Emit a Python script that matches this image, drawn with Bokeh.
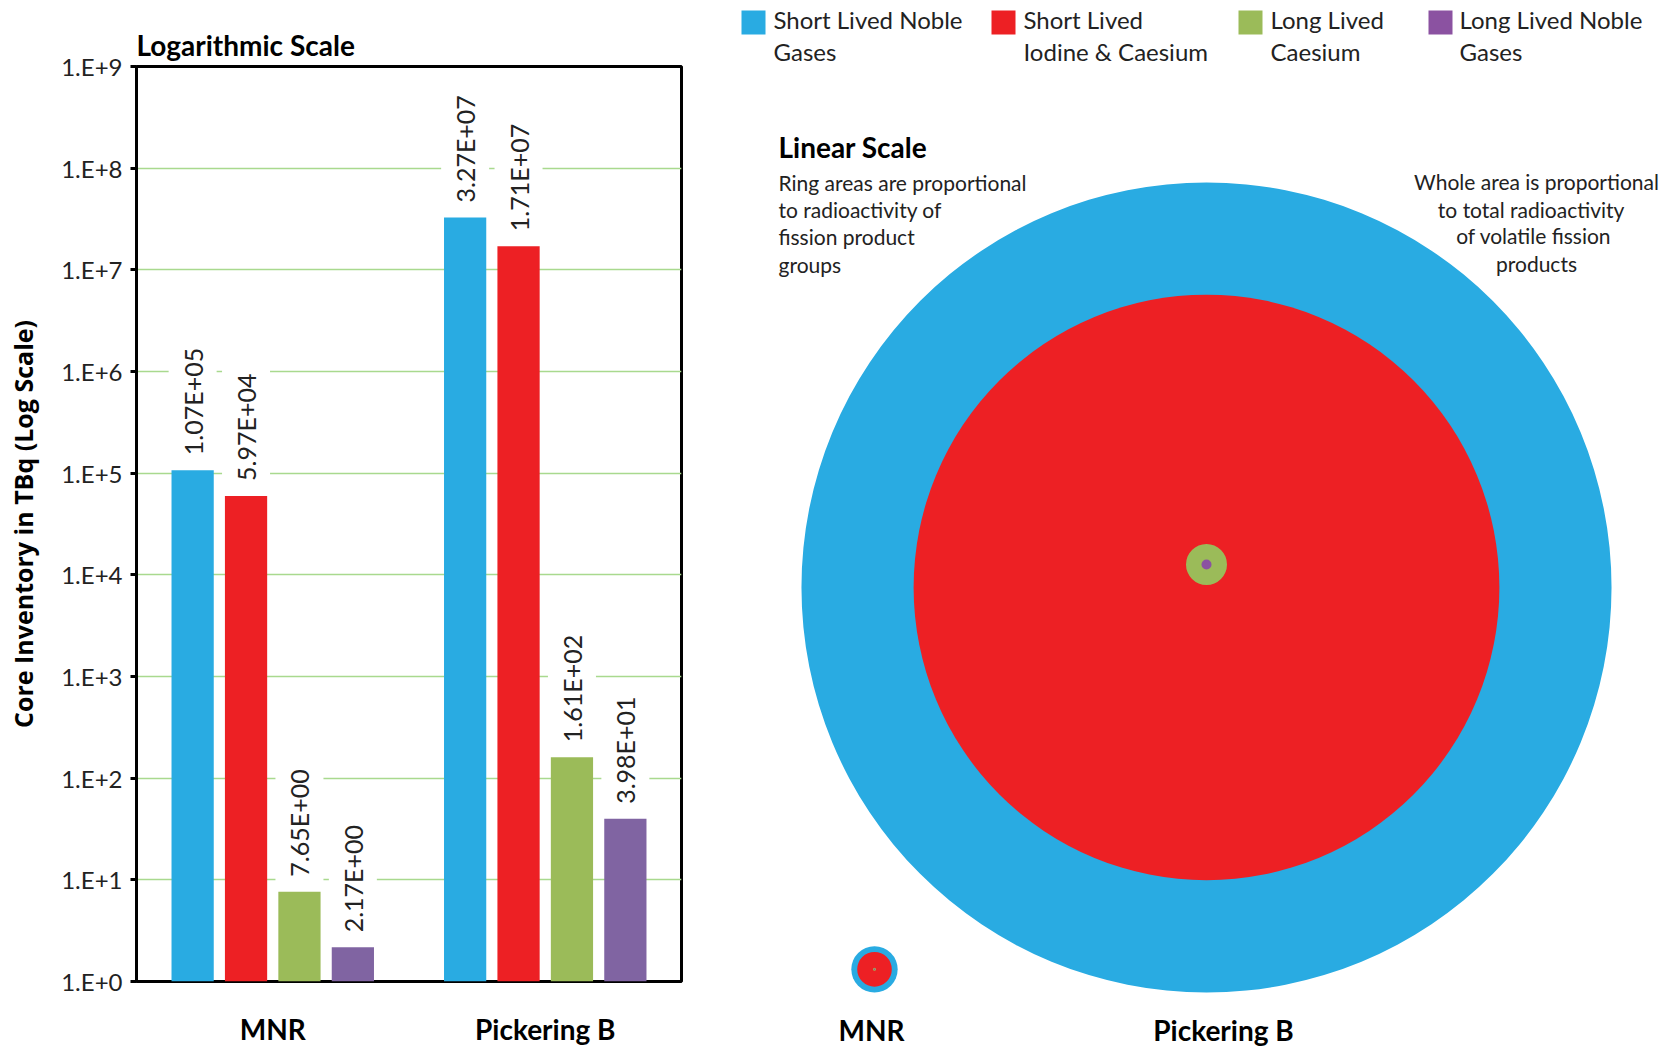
import math
from bokeh.plotting import figure
from bokeh.models import (FactorRange, Range1d, ColumnDataSource, FixedTicker, Label)
from bokeh.transform import dodge
from bokeh.layouts import row
from bokeh.core.properties import value
from bokeh.embed import file_html
from bokeh.resources import INLINE

# ---------------- data ----------------
reactors = ["MNR", "Pickering B"]
group_names = ["Short Lived Noble Gases", "Short Lived Iodine & Caesium",
               "Long Lived Caesium", "Long Lived Noble Gases"]
legend_line1 = ["Short Lived Noble", "Short Lived", "Long Lived", "Long Lived Noble"]
legend_line2 = ["Gases", "Iodine & Caesium", "Caesium", "Gases"]
short_noble = [1.07e5, 3.27e7]
short_iodine = [5.97e4, 1.71e7]
long_caesium = [7.65, 1.61e2]
long_noble = [2.17, 3.98e1]
y_ticks = [1, 10, 100, 1000, 10000, 100000, 1000000, 10000000, 100000000, 1000000000]
y_tick_labels = ["1.E+0", "1.E+1", "1.E+2", "1.E+3", "1.E+4", "1.E+5",
                 "1.E+6", "1.E+7", "1.E+8", "1.E+9"]
left_note = ["Ring areas are proportional", "to radioactivity of",
             "fission product", "groups"]
right_note = ["Whole area is proportional", "to  total  radioactivity",
              "of  volatile fission", "products"]

# ---------------- styles ----------------
FONT = "Lato"
bar_colors = ["#29abe2", "#ed2024", "#9bbb59", "#8064a2"]
legend_colors = ["#29abe2", "#ed2024", "#9bbb59", "#8b52a1"]
offsets = [-0.294, -0.098, 0.098, 0.294]
series = [short_noble, short_iodine, long_caesium, long_noble]

# ---------------- left: log bar chart ----------------
p = figure(width=700, height=1055, x_range=FactorRange(factors=reactors),
           y_axis_type="log", y_range=Range1d(1, 1e9),
           output_backend="svg", toolbar_location=None,
           min_border_left=136, min_border_right=19,
           min_border_top=66, min_border_bottom=74)
p.frame_align = False
p.background_fill_color = "white"
p.border_fill_color = "white"
p.outline_line_color = "black"
p.outline_line_width = 3
p.xgrid.visible = False
p.ygrid.grid_line_color = "#a9d98e"
p.ygrid.grid_line_width = 1.5
p.ygrid.ticker = FixedTicker(ticks=y_ticks)

p.yaxis.ticker = FixedTicker(ticks=y_ticks)
p.yaxis.major_label_overrides = {t: l for t, l in zip(y_ticks, y_tick_labels)}
p.yaxis.minor_tick_line_color = None
p.yaxis.major_tick_in = 0
p.yaxis.major_tick_out = 6
p.yaxis.major_tick_line_width = 3
p.yaxis.axis_line_width = 3
p.yaxis.major_label_standoff = 8
p.yaxis.major_label_text_font = FONT
p.yaxis.major_label_text_font_size = "24px"
p.yaxis.major_label_text_color = "#222222"
p.yaxis.axis_label = "Core Inventory in TBq (Log Scale)"
p.yaxis.axis_label_text_font = "Open Sans"
p.yaxis.axis_label_text_font_style = "bold"
p.yaxis.axis_label_text_font_size = "25px"
p.yaxis.axis_label_text_color = "black"
p.yaxis.axis_label_standoff = 18

p.xaxis.major_tick_line_color = None
p.xaxis.axis_line_color = None
p.xaxis.major_label_text_font = FONT
p.xaxis.major_label_text_font_style = "bold"
p.xaxis.major_label_text_font_size = "28px"
p.xaxis.major_label_text_color = "black"
p.xaxis.major_label_standoff = 24

p.title.text = "Logarithmic Scale"
p.title.text_font = FONT
p.title.text_font_size = "28px"
p.title.text_font_style = "bold"
p.title.text_color = "black"
p.title.align = "left"

for vals, col, off, name in zip(series, bar_colors, offsets, group_names):
    src = ColumnDataSource(dict(reactor=reactors, v=vals,
                                lbl=[f"{x:.2E}" for x in vals]))
    xs = dodge("reactor", off, range=p.x_range)
    p.vbar(x=xs, top="v", bottom=1, width=0.155, source=src,
           fill_color=col, line_color=None)
    p.text(x=xs, y="v", text="lbl", source=src, angle=math.pi / 2,
           text_align="left", text_baseline="middle", y_offset=-6,
           text_font=value(FONT), text_font_size="25px", text_color="#222222",
           background_fill_color="white", padding=9)

# ---------------- right: linear circles ----------------
W, H = 969, 1055
X0 = 700
SCALE = 0.07083  # pixels per sqrt(TBq)

pr = figure(width=W, height=H, x_range=Range1d(0, W / SCALE),
            y_range=Range1d(0, H / SCALE), output_backend="svg",
            toolbar_location=None, min_border=0,
            x_axis_location=None, y_axis_location=None)
pr.frame_align = False
pr.grid.visible = False
pr.outline_line_color = None
pr.background_fill_color = "white"
pr.border_fill_color = "white"


def dx(px):
    return (px - X0) / SCALE


def dy(py):
    return (H - py) / SCALE


centers_px = [874, 1206]
baseline_px = 992
r_blue = [math.sqrt(v) for v in short_noble]
r_red = [math.sqrt(v) for v in short_iodine]
cx = [dx(c) for c in centers_px]
cy = [dy(baseline_px) + r for r in r_blue]
csrc = ColumnDataSource(dict(x=cx, y=cy, rb=r_blue, rr=r_red))
pr.circle(x="x", y="y", radius="rb", source=csrc, fill_color=bar_colors[0], line_color=None)
pr.circle(x="x", y="y", radius="rr", source=csrc, fill_color=bar_colors[1], line_color=None)

# small groups (enlarged so they are visible)
dot_y = [cy[0], cy[1] + 23 / SCALE]
pr.scatter(x=cx, y=dot_y, size=[3, 41], fill_color=bar_colors[2], line_color=None)
pr.scatter(x=cx, y=dot_y, size=[1.5, 10], fill_color=legend_colors[3], line_color=None)

# legend
leg_sq_x = [753, 1003, 1250, 1440]
leg_tx_x = [773, 1023, 1270, 1459]
pr.scatter(x=[dx(v) for v in leg_sq_x], y=[dy(22)] * 4, marker="square", size=24,
           fill_color=legend_colors, line_color=None)
for tx, l1, l2 in zip(leg_tx_x, legend_line1, legend_line2):
    for txt, py in ((l1, 19), (l2, 51)):
        pr.add_layout(Label(x=dx(tx), y=dy(py), text=txt, text_font=FONT,
                            text_font_size="24px", text_color="#222222",
                            text_baseline="middle", text_align="left"))

pr.add_layout(Label(x=dx(778), y=dy(146), text="Linear Scale", text_font=FONT,
                    text_font_size="28px", text_font_style="bold",
                    text_color="black", text_baseline="middle"))
for txt, py in zip(left_note, [182, 209, 236, 264]):
    pr.add_layout(Label(x=dx(778), y=dy(py), text=txt, text_font=FONT,
                        text_font_size="21px", text_color="#222222",
                        text_baseline="middle", text_align="left"))
for txt, py in zip(right_note, [181, 209, 235, 263]):
    pr.add_layout(Label(x=dx(1536), y=dy(py), text=txt, text_font=FONT,
                        text_font_size="21px", text_color="#222222",
                        text_baseline="middle", text_align="center"))
for txt, px in zip(reactors, [871, 1223]):
    pr.add_layout(Label(x=dx(px), y=dy(1029), text=txt, text_font=FONT,
                        text_font_size="28px", text_font_style="bold",
                        text_color="black", text_baseline="middle",
                        text_align="center"))

layout = row(p, pr)
open("out.html", "w").write(file_html(layout, INLINE))
